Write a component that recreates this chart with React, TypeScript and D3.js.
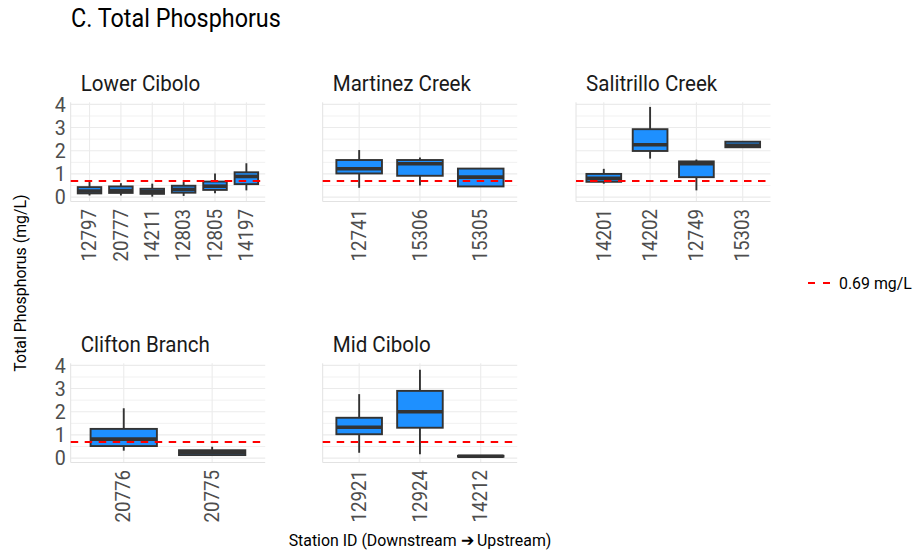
import React from "react";
import * as d3 from "d3";

// Box statistics per station: [lower whisker, Q1, median, Q3, upper whisker] in mg/L
const lowerCiboloStations = ["12797", "20777", "14211", "12803", "12805", "14197"];
const lowerCiboloStats = [
  [0.07, 0.16, 0.26, 0.43, 0.73],
  [0.07, 0.18, 0.28, 0.46, 0.6],
  [0.02, 0.14, 0.24, 0.36, 0.58],
  [0.05, 0.19, 0.33, 0.49, 0.65],
  [0.17, 0.31, 0.47, 0.67, 1.02],
  [0.29, 0.56, 0.89, 1.07, 1.46],
];

const martinezStations = ["12741", "15306", "15305"];
const martinezStats = [
  [0.4, 1.02, 1.22, 1.6, 2.03],
  [0.5, 0.92, 1.44, 1.6, 1.71],
  [0.46, 0.46, 0.86, 1.23, 1.23],
];

const salitrilloStations = ["14201", "14202", "12749", "15303"];
const salitrilloStats = [
  [0.58, 0.66, 0.81, 1.0, 1.22],
  [1.66, 1.99, 2.26, 2.93, 3.89],
  [0.29, 0.86, 1.44, 1.54, 1.62],
  [2.15, 2.15, 2.23, 2.39, 2.39],
];

const cliftonStations = ["20776", "20775"];
const cliftonStats = [
  [0.32, 0.52, 0.82, 1.26, 2.15],
  [0.1, 0.13, 0.24, 0.34, 0.49],
];

const midCiboloStations = ["12921", "12924", "14212"];
const midCiboloStats = [
  [0.23, 1.03, 1.33, 1.74, 2.76],
  [0.17, 1.31, 2.0, 2.9, 3.81],
  [0.05, 0.06, 0.08, 0.1, 0.11],
];

const panelTitles = ["Lower Cibolo", "Martinez Creek", "Salitrillo Creek", "Clifton Branch", "Mid Cibolo"];
const yTicks = [0, 1, 2, 3, 4];
const yGrid = [0, 0.5, 1, 1.5, 2, 2.5, 3, 3.5, 4];
const threshold = 0.69;
const thresholdLabel = "0.69 mg/L";

const panels = [
  { title: panelTitles[0], stations: lowerCiboloStations, stats: lowerCiboloStats, col: 0, row: 0 },
  { title: panelTitles[1], stations: martinezStations, stats: martinezStats, col: 1, row: 0 },
  { title: panelTitles[2], stations: salitrilloStations, stats: salitrilloStats, col: 2, row: 0 },
  { title: panelTitles[3], stations: cliftonStations, stats: cliftonStats, col: 0, row: 1 },
  { title: panelTitles[4], stations: midCiboloStations, stats: midCiboloStats, col: 1, row: 1 },
];

const W = 916;
const H = 550;
const colLeft = [70.7, 322.7, 576];
const rowTop = [102.3, 363.3];
const panelW = 194.5;
const panelH = 99.2;
const FONT = "Roboto, 'Noto Sans', sans-serif";
const COND = 0.935;

const BOX_FILL = "#1E90FF";
const BOX_STROKE = "#333333";
const GRID = "#ebebeb";
const BOX_LW = 1.9;

function CText(props: {
  x: number;
  y: number;
  size: number;
  fill?: string;
  anchor?: "start" | "middle" | "end";
  rotate?: number;
  baseline?: string;
  children: React.ReactNode;
}) {
  const { x, y, size, fill = "#000", anchor = "start", rotate = 0, baseline = "auto", children } = props;
  return (
    <text
      transform={`translate(${x},${y}) rotate(${rotate}) scale(${COND},1)`}
      fontFamily={FONT}
      fontSize={size}
      fill={fill}
      textAnchor={anchor}
      dominantBaseline={baseline}
    >
      {children}
    </text>
  );
}

function Panel({ p }: { p: (typeof panels)[number] }) {
  const left = colLeft[p.col];
  const top = rowTop[p.row];
  const bottom = top + panelH;
  const x = d3.scalePoint<string>().domain(p.stations).range([left, left + panelW]).padding(0.6);
  const y = d3.scaleLinear().domain([-0.19, 4.09]).range([bottom, top]);
  const step = x.step();
  const bw = step * 0.75;

  return (
    <g>
      {/* grid */}
      {yGrid.map((v) => (
        <line
          key={"h" + v}
          x1={left}
          x2={left + panelW}
          y1={y(v)}
          y2={y(v)}
          stroke={GRID}
          strokeWidth={Number.isInteger(v) ? 1.1 : 0.7}
        />
      ))}
      {p.stations.map((s) => (
        <line key={"v" + s} x1={x(s)} x2={x(s)} y1={top} y2={bottom} stroke={GRID} strokeWidth={1.1} />
      ))}
      {/* axis lines */}
      <line x1={left} x2={left} y1={top} y2={bottom} stroke="#e2e2e2" strokeWidth={1} />
      <line x1={left} x2={left + panelW} y1={bottom} y2={bottom} stroke="#e2e2e2" strokeWidth={1} />

      {/* boxes */}
      {p.stats.map((st, i) => {
        const cx = x(p.stations[i]) as number;
        const [lo, q1, med, q3, hi] = st;
        return (
          <g key={i}>
            <line x1={cx} x2={cx} y1={y(hi)} y2={y(q3)} stroke={BOX_STROKE} strokeWidth={BOX_LW} />
            <line x1={cx} x2={cx} y1={y(q1)} y2={y(lo)} stroke={BOX_STROKE} strokeWidth={BOX_LW} />
            <rect
              x={cx - bw / 2}
              y={y(q3)}
              width={bw}
              height={Math.max(0.01, y(q1) - y(q3))}
              fill={BOX_FILL}
              stroke={BOX_STROKE}
              strokeWidth={BOX_LW}
            />
            <line
              x1={cx - bw / 2}
              x2={cx + bw / 2}
              y1={y(med)}
              y2={y(med)}
              stroke={BOX_STROKE}
              strokeWidth={BOX_LW * 1.9}
            />
          </g>
        );
      })}

      {/* threshold */}
      <line
        x1={left}
        x2={left + panelW}
        y1={y(threshold)}
        y2={y(threshold)}
        stroke="#ff0000"
        strokeWidth={2}
        strokeDasharray="7.5,6.5"
      />

      {/* strip title */}
      <CText x={left + 10} y={top - 11.6} size={22} fill="#1a1a1a">
        {p.title}
      </CText>

      {/* y tick labels on left column */}
      {p.col === 0 &&
        yTicks.map((t) => (
          <CText key={"yt" + t} x={left - 5} y={y(t)} size={21} fill="#4d4d4d" anchor="end" baseline="central">
            {t}
          </CText>
        ))}

      {/* x tick labels */}
      {p.stations.map((s) => (
        <CText
          key={"xt" + s}
          x={x(s) as number}
          y={bottom + 7.5}
          size={20}
          fill="#4d4d4d"
          anchor="end"
          rotate={-90}
          baseline="central"
        >
          {s}
        </CText>
      ))}
    </g>
  );
}

export default function App() {
  return (
    <svg width={W} height={H} style={{ position: "absolute", left: 0, top: 0, background: "#fff" }}>
      <rect width={W} height={H} fill="#fff" />
      <CText x={71} y={27.3} size={25} fill="#000">
        C. Total Phosphorus
      </CText>
      {panels.map((p) => (
        <Panel key={p.title} p={p} />
      ))}
      <CText x={20} y={283} size={17} anchor="middle" rotate={-90} baseline="central">
        Total Phosphorus (mg/L)
      </CText>
      <CText x={420} y={540} size={17} anchor="middle" baseline="central">
        Station ID (Downstream ➔ Upstream)
      </CText>
      {/* legend */}
      <line x1={808} x2={831} y1={283} y2={283} stroke="#ff0000" strokeWidth={2} strokeDasharray="7,8" />
      <CText x={839} y={283} size={17} baseline="central">
        {thresholdLabel}
      </CText>
    </svg>
  );
}
